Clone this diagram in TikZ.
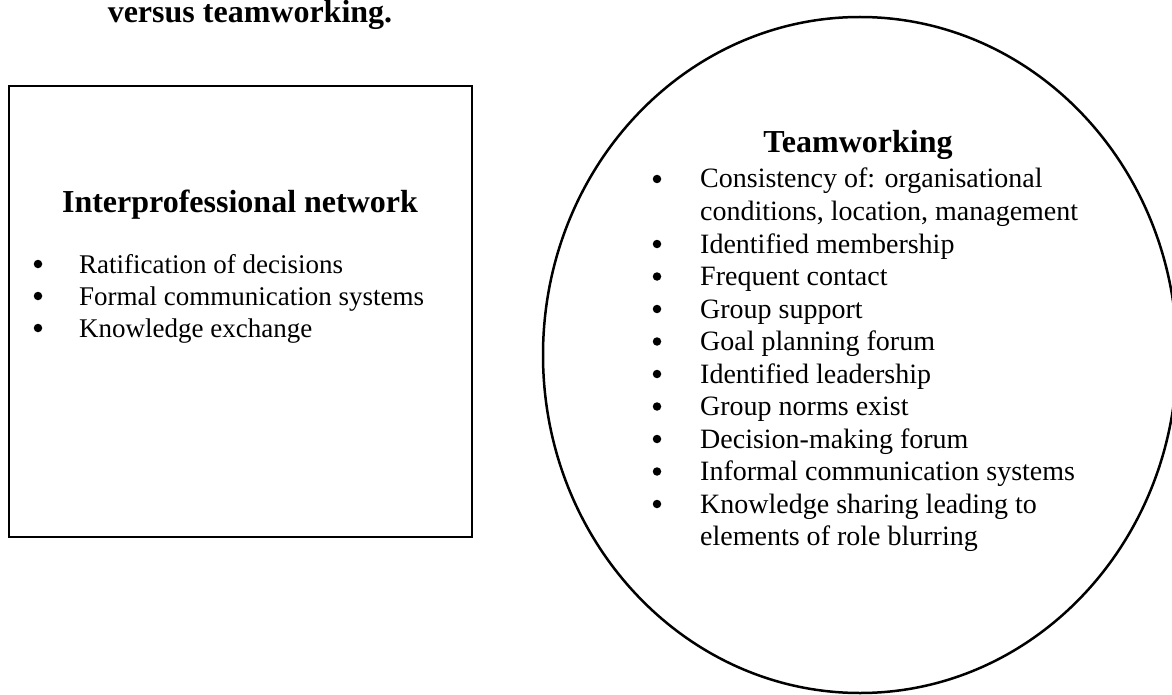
\documentclass[tikz,border=0pt]{standalone}
\usepackage{fontspec}
\setmainfont{Liberation Serif}
\usetikzlibrary{shapes.geometric}

\begin{document}
\begin{tikzpicture}[x=1pt, y=-1pt,
                          framebox/.style={rectangle, draw, line width=2pt, minimum width=463pt, minimum height=451pt, inner sep=0pt},
                          ringshape/.style={ellipse, draw, line width=2.5pt, minimum width=634pt, minimum height=676pt, inner sep=0pt},
                          titletext/.style={font=\fontsize{32}{36}\selectfont\bfseries, anchor=base, inner sep=0pt},
                          boxtext/.style={font=\fontsize{27}{32}\selectfont, anchor=base west, inner sep=0pt},
                          ringtext/.style={font=\fontsize{28}{32}\selectfont, anchor=base west, inner sep=0pt},
                          dotnode/.style={circle, fill, inner sep=0pt, minimum size=8.5pt},
                      ]
                      \useasboundingbox (0,0) rectangle (1172,695);

                      %Shapes
                      \node[framebox]     (netbox)     at (240.5,311.5)   {};
                      \node[ringshape]    (teamring)   at (860,355)       {};

                      %Titles
                      \node[titletext]    (heading)    at (250,23)        {versus teamworking.};
                      \node[titletext]    (nettitle)   at (240,212)       {Interprofessional network};
                      \node[titletext]    (teamtitle)  at (858,153)       {Teamworking};

                      %Network items
                      \node[boxtext]      (net1)       at (79,273)                          {Ratification of decisions};
                      \node[boxtext]      (net2)       at ([yshift=-32pt]net1.base west)    {Formal communication systems};
                      \node[boxtext]      (net3)       at ([yshift=-32pt]net2.base west)    {Knowledge exchange};
                      \node[dotnode]      (netdot1)    at ([xshift=-41pt,yshift=9pt]net1.base west) {};
                      \node[dotnode]      (netdot2)    at ([xshift=-41pt,yshift=9pt]net2.base west) {};
                      \node[dotnode]      (netdot3)    at ([xshift=-41pt,yshift=9pt]net3.base west) {};

                      %Teamworking items
                      \node[ringtext]     (team1)      at (700,188)                         {Consistency of: organisational};
                      \node[ringtext]     (team1b)     at ([yshift=-32.5pt]team1.base west)  {conditions, location, management};
                      \node[ringtext]     (team2)      at ([yshift=-32.5pt]team1b.base west) {Identified membership};
                      \node[ringtext]     (team3)      at ([yshift=-32.5pt]team2.base west)  {Frequent contact};
                      \node[ringtext]     (team4)      at ([yshift=-32.5pt]team3.base west)  {Group support};
                      \node[ringtext]     (team5)      at ([yshift=-32.5pt]team4.base west)  {Goal planning forum};
                      \node[ringtext]     (team6)      at ([yshift=-32.5pt]team5.base west)  {Identified leadership};
                      \node[ringtext]     (team7)      at ([yshift=-32.5pt]team6.base west)  {Group norms exist};
                      \node[ringtext]     (team8)      at ([yshift=-32.5pt]team7.base west)  {Decision-making forum};
                      \node[ringtext]     (team9)      at ([yshift=-32.5pt]team8.base west)  {Informal communication systems};
                      \node[ringtext]     (team10)     at ([yshift=-32.5pt]team9.base west)  {Knowledge sharing leading to};
                      \node[ringtext]     (team10b)    at ([yshift=-32.5pt]team10.base west) {elements of role blurring};

                      \foreach \item in {team1,team2,team3,team4,team5,team6,team7,team8,team9,team10}
                        \node[dotnode] (dot-\item) at ([xshift=-43pt,yshift=9pt]\item.base west) {};
                  \end{tikzpicture}
\end{document}
